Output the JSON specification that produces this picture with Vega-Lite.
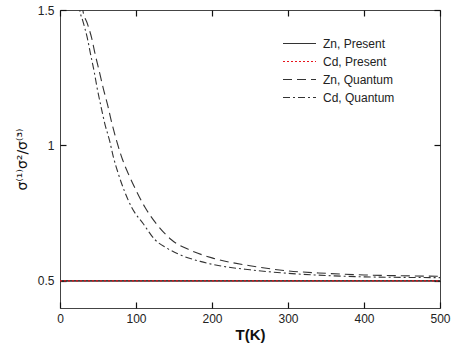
{
  "$schema": "https://vega.github.io/schema/vega-lite/v6.json",
  "autosize": "none",
  "width": 380,
  "height": 298,
  "padding": {"left": 60, "top": 10, "right": 12, "bottom": 44},
  "background": "white",
  "config": {
    "font": "Liberation Sans",
    "view": {"stroke": "#444", "strokeWidth": 1},
    "axis": {"grid": false, "domain": false, "ticks": true, "tickColor": "#111", "tickWidth": 1.2, "tickOpacity": 1, "labelColor": "#222", "titleColor": "#111", "labelFontSize": 12, "labelFont": "Liberation Sans", "titleFont": "Liberation Sans", "tickSize": 6, "labelFlush": false, "labelOverlap": false, "zindex": 1}
  },
  "data": {"values": [
    {"s": "Zn, Present", "T": 0, "v": 0.5}, {"s": "Zn, Present", "T": 500, "v": 0.5},
    {"s": "Zn, Quantum", "T": 29, "v": 1.52}, {"s": "Zn, Quantum", "T": 30, "v": 1.5}, {"s": "Zn, Quantum", "T": 36, "v": 1.45}, {"s": "Zn, Quantum", "T": 41.7, "v": 1.396}, {"s": "Zn, Quantum", "T": 46, "v": 1.34}, {"s": "Zn, Quantum", "T": 51.8, "v": 1.272}, {"s": "Zn, Quantum", "T": 57, "v": 1.21}, {"s": "Zn, Quantum", "T": 62.8, "v": 1.148}, {"s": "Zn, Quantum", "T": 68, "v": 1.085}, {"s": "Zn, Quantum", "T": 74.7, "v": 1.015}, {"s": "Zn, Quantum", "T": 82, "v": 0.95}, {"s": "Zn, Quantum", "T": 90, "v": 0.895}, {"s": "Zn, Quantum", "T": 100, "v": 0.835}, {"s": "Zn, Quantum", "T": 112, "v": 0.771}, {"s": "Zn, Quantum", "T": 127, "v": 0.71}, {"s": "Zn, Quantum", "T": 147, "v": 0.651}, {"s": "Zn, Quantum", "T": 173.5, "v": 0.611}, {"s": "Zn, Quantum", "T": 200, "v": 0.585}, {"s": "Zn, Quantum", "T": 250, "v": 0.556}, {"s": "Zn, Quantum", "T": 300, "v": 0.537}, {"s": "Zn, Quantum", "T": 350, "v": 0.528}, {"s": "Zn, Quantum", "T": 400, "v": 0.522}, {"s": "Zn, Quantum", "T": 450, "v": 0.519}, {"s": "Zn, Quantum", "T": 500, "v": 0.517},
    {"s": "Cd, Quantum", "T": 25, "v": 1.52}, {"s": "Cd, Quantum", "T": 26, "v": 1.5}, {"s": "Cd, Quantum", "T": 30, "v": 1.46}, {"s": "Cd, Quantum", "T": 36, "v": 1.396}, {"s": "Cd, Quantum", "T": 40, "v": 1.34}, {"s": "Cd, Quantum", "T": 45, "v": 1.272}, {"s": "Cd, Quantum", "T": 49, "v": 1.21}, {"s": "Cd, Quantum", "T": 53.6, "v": 1.148}, {"s": "Cd, Quantum", "T": 59, "v": 1.08}, {"s": "Cd, Quantum", "T": 65.5, "v": 1.015}, {"s": "Cd, Quantum", "T": 70, "v": 0.96}, {"s": "Cd, Quantum", "T": 76.8, "v": 0.895}, {"s": "Cd, Quantum", "T": 85, "v": 0.83}, {"s": "Cd, Quantum", "T": 94.4, "v": 0.771}, {"s": "Cd, Quantum", "T": 109.8, "v": 0.71}, {"s": "Cd, Quantum", "T": 125, "v": 0.652}, {"s": "Cd, Quantum", "T": 140, "v": 0.622}, {"s": "Cd, Quantum", "T": 155, "v": 0.6}, {"s": "Cd, Quantum", "T": 184.5, "v": 0.572}, {"s": "Cd, Quantum", "T": 210, "v": 0.556}, {"s": "Cd, Quantum", "T": 250, "v": 0.541}, {"s": "Cd, Quantum", "T": 300, "v": 0.528}, {"s": "Cd, Quantum", "T": 350, "v": 0.52}, {"s": "Cd, Quantum", "T": 400, "v": 0.515}, {"s": "Cd, Quantum", "T": 450, "v": 0.513}, {"s": "Cd, Quantum", "T": 500, "v": 0.512},
    {"s": "Cd, Present", "T": 0, "v": 0.5}, {"s": "Cd, Present", "T": 500, "v": 0.5}
  ]},
  "layer": [
    {
      "transform": [{"filter": "datum.s == 'Zn, Present'"}],
      "mark": {"type": "line", "color": "#333333", "strokeWidth": 1.1},
      "encoding": {
        "x": {"field": "T", "type": "quantitative", "axis": {"orient": "top", "labels": false, "title": null, "offset": -6, "values": [0, 100, 200, 300, 400, 500]}},
        "y": {"field": "v", "type": "quantitative", "axis": {"orient": "right", "labels": false, "title": null, "offset": -6, "values": [0.5, 1, 1.5]}}
      }
    },
    {
      "mark": {"type": "line", "clip": true, "strokeWidth": 1.1, "interpolate": "monotone"},
      "encoding": {
        "x": {"field": "T", "type": "quantitative", "scale": {"domain": [0, 500], "nice": false}, "axis": {"title": "T(K)", "offset": -6, "values": [0, 100, 200, 300, 400, 500], "labelPadding": 5, "titleFontSize": 15, "titleFontWeight": "bold", "titlePadding": 3}},
        "y": {"field": "v", "type": "quantitative", "scale": {"domain": [0.4, 1.5], "nice": false, "zero": false}, "axis": {"title": "σ⁽¹⁾σ²/σ⁽³⁾", "offset": -6, "values": [0.5, 1, 1.5], "labelPadding": 6, "labelExpr": "datum.value == 1 ? '1' : format(datum.value, '.1f')", "titleFont": "DejaVu Sans", "titleFontSize": 14, "titleFontWeight": "normal", "titlePadding": 8}},
        "color": {"field": "s", "type": "nominal", "scale": {"domain": ["Zn, Present", "Cd, Present", "Zn, Quantum", "Cd, Quantum"], "range": ["#333333", "#e8141c", "#333333", "#333333"]}, "legend": {"title": null, "orient": "none", "legendX": 233, "legendY": 27, "symbolType": "M-3,0H3", "symbolSize": 121, "symbolStrokeWidth": 1.1, "labelFontSize": 12, "labelColor": "#222", "labelOffset": 17, "rowPadding": 5}},
        "strokeDash": {"field": "s", "type": "nominal", "scale": {"domain": ["Zn, Present", "Cd, Present", "Zn, Quantum", "Cd, Quantum"], "range": [[1, 0], [2, 2], [9, 5], [7, 3, 2, 3]]}, "legend": null}
      }
    }
  ],
  "resolve": {"axis": {"x": "independent", "y": "independent"}}
}
